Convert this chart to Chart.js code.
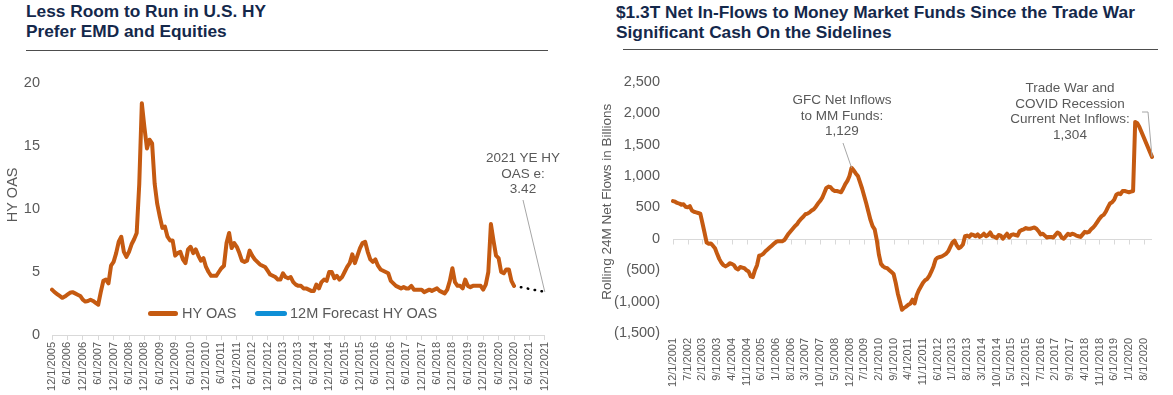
<!DOCTYPE html>
<html>
<head>
<meta charset="utf-8">
<script src="https://cdn.jsdelivr.net/npm/chart.js@4.4.0/dist/chart.umd.min.js"></script>
<style>
  body { margin: 0; background: #fff; width: 1173px; height: 395px; position: relative; overflow: hidden;
         font-family: 'Liberation Sans', Arial, sans-serif; }
  .title { position: absolute; font-weight: bold; font-size: 17.3px; line-height: 20px; color: #14284b; white-space: nowrap; }
  .rule { position: absolute; height: 0; border-top: 1.5px solid #4d4d4d; }
  .box { position: absolute; top: 60px; height: 335px; }
  .note { position: absolute; font-size: 13.5px; line-height: 15.5px; color: #595959; text-align: center;
          white-space: nowrap; transform: translateX(-50%); }
  .lg-bar { position: absolute; height: 5px; border-radius: 3px; }
  .lg-txt { position: absolute; font-size: 14.5px; line-height: 16px; color: #595959; white-space: nowrap; }
</style>
</head>
<body>

<div class="title" style="left:26px; top:1px">Less Room to Run in U.S. HY<br>Prefer EMD and Equities</div>
<div class="rule" style="left:26px; width:522px; top:50px"></div>

<div class="title" style="left:616px; top:2px">$1.3T Net In-Flows to Money Market Funds Since the Trade War<br>Significant Cash On the Sidelines</div>
<div class="rule" style="left:623px; width:535px; top:49px"></div>

<div class="box" style="left:0; width:560px"><canvas id="hyChart" width="560" height="335"></canvas></div>
<div class="box" style="left:580px; width:593px"><canvas id="mmChart" width="593" height="335"></canvas></div>

<!-- legend of the left chart (sits inside the plot, like the original) -->
<div class="lg-bar" style="left:148px; top:311px; width:30px; background:#c55a11"></div>
<div class="lg-txt" style="left:182px; top:305px">HY OAS</div>
<div class="lg-bar" style="left:255px; top:311px; width:32px; background:#0f8fd6"></div>
<div class="lg-txt" style="left:290px; top:305px">12M Forecast HY OAS</div>

<!-- callouts -->
<div class="note" style="left:523px; top:150px">2021 YE HY<br>OAS e:<br>3.42</div>
<div class="note" style="left:842px; top:92px">GFC Net Inflows<br>to MM Funds:<br>1,129</div>
<div class="note" style="left:1070px; top:80px">Trade War and<br>COVID Recession<br>Current Net Inflows:<br>1,304</div>

<script>
// ---- left chart: HY OAS, monthly 12/2005 .. 12/2020 ----
const hy2005 = [3.6];
const hy2006 = [3.4, 3.25, 3.1, 2.95, 3.05, 3.2, 3.35, 3.4, 3.3, 3.2, 3.1, 2.8];
const hy2007 = [2.65, 2.7, 2.8, 2.7, 2.55, 2.4, 3.4, 4.3, 4.4, 4.1, 5.5, 5.8];
const hy2008 = [6.5, 7.4, 7.8, 6.6, 6.2, 6.6, 7.2, 7.6, 8.1, 12.0, 18.4, 16.5];
const hy2009 = [14.8, 15.5, 15.2, 12.0, 10.4, 9.4, 8.5, 8.6, 7.8, 7.5, 7.5, 6.3];
const hy2010 = [6.5, 6.6, 6.0, 5.7, 6.8, 7.0, 6.5, 6.8, 6.3, 5.9, 6.1, 5.4];
const hy2011 = [5.0, 4.7, 4.7, 4.7, 5.0, 5.3, 5.5, 7.3, 8.1, 6.9, 7.3, 7.0];
const hy2012 = [6.5, 5.9, 5.8, 5.9, 6.7, 6.3, 6.0, 5.8, 5.6, 5.5, 5.4, 5.1];
const hy2013 = [4.8, 4.7, 4.6, 4.4, 4.4, 4.9, 4.6, 4.5, 4.6, 4.2, 4.0, 3.9];
const hy2014 = [3.9, 3.7, 3.7, 3.6, 3.5, 3.5, 4.0, 3.7, 4.2, 4.4, 4.3, 5.0];
const hy2015 = [5.0, 4.5, 4.7, 4.4, 4.6, 5.0, 5.4, 5.7, 6.4, 5.7, 6.3, 6.9];
const hy2016 = [7.3, 7.4, 6.6, 6.0, 5.8, 6.0, 5.5, 5.2, 5.1, 5.0, 4.9, 4.3];
const hy2017 = [4.1, 3.9, 3.8, 3.7, 3.8, 3.7, 3.7, 3.9, 3.6, 3.6, 3.6, 3.6];
const hy2018 = [3.4, 3.5, 3.6, 3.5, 3.6, 3.7, 3.5, 3.4, 3.3, 3.6, 4.3, 5.3];
const hy2019 = [4.2, 3.9, 3.9, 3.7, 4.4, 3.9, 3.8, 3.9, 3.9, 3.9, 3.9, 3.6];
const hy2020 = [4.0, 5.0, 8.8, 7.5, 6.3, 6.1, 5.0, 4.9, 5.2, 5.2, 4.3, 3.9];
const hyOas = [].concat(hy2005, hy2006, hy2007, hy2008, hy2009, hy2010, hy2011, hy2012,
  hy2013, hy2014, hy2015, hy2016, hy2017, hy2018, hy2019, hy2020);

// forecast: from the last actual (12/2020) to year end 2021
const forecastStart = 3.9;
const forecastEnd = 3.42;

// ---- right chart: rolling 24M net flows ($bn), monthly 12/2001 .. 12/2020 ----
const mm2001 = [600];
const mm2002 = [590, 570, 560, 540, 550, 510, 500, 520, 450, 430, 420, 410];
const mm2003 = [400, 250, 100, -60, -80, -75, -110, -150, -240, -320, -380, -420];
const mm2004 = [-440, -420, -390, -400, -420, -470, -490, -450, -460, -470, -500, -520];
const mm2005 = [-600, -610, -500, -420, -270, -260, -240, -200, -170, -140, -110, -80];
const mm2006 = [-50, -40, -40, -40, -20, 30, 80, 120, 160, 200, 230, 280];
const mm2007 = [320, 350, 390, 400, 420, 450, 470, 510, 560, 600, 650, 730];
const mm2008 = [810, 830, 820, 780, 760, 760, 750, 740, 800, 870, 920, 1000];
const mm2009 = [1129, 1090, 1040, 1000, 900, 800, 680, 560, 430, 300, 200, 150];
const mm2010 = [-20, -250, -400, -440, -460, -470, -500, -530, -560, -700, -870, -1000];
const mm2011 = [-1130, -1100, -1080, -1050, -1030, -970, -1030, -900, -820, -760, -700, -660];
const mm2012 = [-640, -590, -520, -440, -330, -300, -290, -280, -260, -240, -200, -130];
const mm2013 = [-60, -30, -100, -150, -130, -90, 40, 50, 30, 70, 60, 40];
const mm2014 = [70, 30, 50, 80, 40, 60, 100, 40, 30, 10, 60, 50];
const mm2015 = [0, 40, 80, 20, 60, 70, 60, 50, 120, 140, 150, 170];
const mm2016 = [160, 160, 170, 180, 160, 120, 70, 80, 50, 20, 30, 30];
const mm2017 = [20, 60, 100, 80, 20, 0, 40, 80, 60, 80, 70, 50];
const mm2018 = [40, 30, 70, 110, 100, 110, 150, 180, 220, 270, 320, 360];
const mm2019 = [380, 430, 500, 560, 580, 620, 700, 720, 710, 760, 760, 750];
const mm2020 = [740, 750, 760, 1860, 1840, 1780, 1700, 1620, 1540, 1460, 1380, 1304];
const mmFlows = [].concat(mm2001, mm2002, mm2003, mm2004, mm2005, mm2006, mm2007, mm2008,
  mm2009, mm2010, mm2011, mm2012, mm2013, mm2014, mm2015, mm2016, mm2017, mm2018, mm2019, mm2020);

// monthly category labels "M/1/YYYY"
function monthLabels(m, y, count) {
  const out = [];
  for (let i = 0; i < count; i++) {
    out.push(m + '/1/' + y);
    m++;
    if (m > 12) { m = 1; y++; }
  }
  return out;
}
const hyLabels = monthLabels(12, 2005, 193);   // 12/1/2005 .. 12/1/2021
const mmLabels = monthLabels(12, 2001, 229);   // 12/1/2001 .. 12/1/2020
const hyTickEvery = 6;
const mmTickEvery = 7;

const forecast = hyLabels.map((_, i) =>
  i === hyOas.length - 1 ? forecastStart : (i === hyLabels.length - 1 ? forecastEnd : null));

Chart.defaults.font.family = "'Liberation Sans', Arial, sans-serif";
Chart.defaults.color = '#595959';

const ORANGE = '#c55a11';
const GRAY_TXT = '#595959';
const AXIS = '#d9d9d9';

// leader lines from callout text to a data point
function leaders(paths) {
  return {
    id: 'leaders',
    afterDatasetsDraw(chart) {
      const ctx = chart.ctx;
      ctx.save();
      ctx.strokeStyle = '#a6a6a6';
      ctx.lineWidth = 1;
      paths.forEach(p => {
        const x = chart.scales.x.getPixelForValue(p.index);
        const y = chart.scales.y.getPixelForValue(p.value);
        ctx.beginPath();
        p.from.forEach((pt, i) => i ? ctx.lineTo(pt[0], pt[1]) : ctx.moveTo(pt[0], pt[1]));
        ctx.lineTo(x, y);
        ctx.stroke();
      });
      ctx.restore();
    }
  };
}

// ========== left: HY OAS ==========
new Chart(document.getElementById('hyChart'), {
  type: 'line',
  data: {
    labels: hyLabels,
    datasets: [
      { label: 'HY OAS', data: hyOas, borderColor: ORANGE, borderWidth: 4,
        pointRadius: 0, tension: 0, borderJoinStyle: 'round', borderCapStyle: 'round' },
      { label: '12M Forecast HY OAS', data: forecast, borderColor: '#000', borderWidth: 2.5,
        borderDash: [0.5, 6.5], borderCapStyle: 'round', pointRadius: 0, spanGaps: true, tension: 0 }
    ]
  },
  options: {
    responsive: false,
    animation: false,
    layout: { padding: { top: 23, right: 12, left: 0, bottom: 0 } },
    plugins: { legend: { display: false }, tooltip: { enabled: false } },
    scales: {
      x: {
        type: 'category',
        afterFit(s) { s.height = 60; },
        grid: {
          drawOnChartArea: false, tickLength: 5,
          color: c => c.index % hyTickEvery === 0 ? AXIS : 'rgba(0,0,0,0)'
        },
        border: { color: AXIS },
        ticks: {
          autoSkip: false, minRotation: 90, maxRotation: 90, padding: 2,
          font: { size: 11 }, color: GRAY_TXT,
          callback: (v, i) => i % hyTickEvery === 0 ? hyLabels[i] : ''
        }
      },
      y: {
        min: 0, max: 20,
        afterFit(s) { s.width = 52; },
        grid: { display: false, drawTicks: false },
        border: { display: false },
        ticks: { stepSize: 5, padding: 12, font: { size: 14.5 }, color: GRAY_TXT },
        // leading spaces nudge the title up a little, as in the original
        title: { display: true, text: '       HY OAS', color: GRAY_TXT, font: { size: 14.5 }, padding: { top: 4 } }
      }
    }
  },
  plugins: [leaders([{ from: [[523, 140]], index: hyLabels.length - 1, value: forecastEnd }])]
});

// ========== right: money market flows ==========
const zeroAxis = {
  id: 'zeroAxis',
  beforeDatasetsDraw(chart) {
    const { ctx, chartArea, scales } = chart;
    const y0 = Math.round(scales.y.getPixelForValue(0)) + 0.5;
    ctx.save();
    ctx.strokeStyle = AXIS;
    ctx.lineWidth = 1;
    ctx.beginPath();
    ctx.moveTo(chartArea.left, y0);
    ctx.lineTo(chartArea.right, y0);
    for (let i = 0; i < mmLabels.length; i += mmTickEvery) {
      const x = Math.round(scales.x.getPixelForValue(i)) + 0.5;
      ctx.moveTo(x, y0);
      ctx.lineTo(x, y0 + 5);
    }
    ctx.stroke();
    ctx.restore();
  }
};

function fmtFlow(v) {
  const s = Math.abs(v).toLocaleString('en-US');
  return v < 0 ? '(' + s + ')' : s;
}

new Chart(document.getElementById('mmChart'), {
  type: 'line',
  data: {
    labels: mmLabels,
    datasets: [
      { label: 'Rolling 24M Net Flows', data: mmFlows, borderColor: ORANGE, borderWidth: 4,
        pointRadius: 0, tension: 0, borderJoinStyle: 'round', borderCapStyle: 'round' }
    ]
  },
  options: {
    responsive: false,
    animation: false,
    layout: { padding: { top: 19, right: 21, left: 0, bottom: 0 } },
    plugins: { legend: { display: false }, tooltip: { enabled: false } },
    scales: {
      x: {
        type: 'category',
        afterFit(s) { s.height = 62; },
        grid: { display: false, drawTicks: false },
        border: { display: false },
        ticks: {
          autoSkip: false, minRotation: 90, maxRotation: 90, padding: 5,
          font: { size: 11 }, color: GRAY_TXT,
          callback: (v, i) => i % mmTickEvery === 0 ? mmLabels[i] : ''
        }
      },
      y: {
        min: -1500, max: 2500,
        afterFit(s) { s.width = 93; },
        grid: { display: false, drawTicks: false },
        border: { display: false },
        ticks: { stepSize: 500, padding: 13, font: { size: 14.5 }, color: GRAY_TXT, callback: v => fmtFlow(v) },
        title: { display: true, text: '   Rolling 24M Net Flows in Billions', color: GRAY_TXT,
                 font: { size: 13.5 }, padding: { top: 19 } }
      }
    }
  },
  plugins: [zeroAxis, leaders([
    { from: [[263, 83]], index: 85, value: mmFlows[85] },
    { from: [[562, 52], [568, 52]], index: mmFlows.length - 1, value: mmFlows[mmFlows.length - 1] }
  ])]
});
</script>
</body>
</html>
